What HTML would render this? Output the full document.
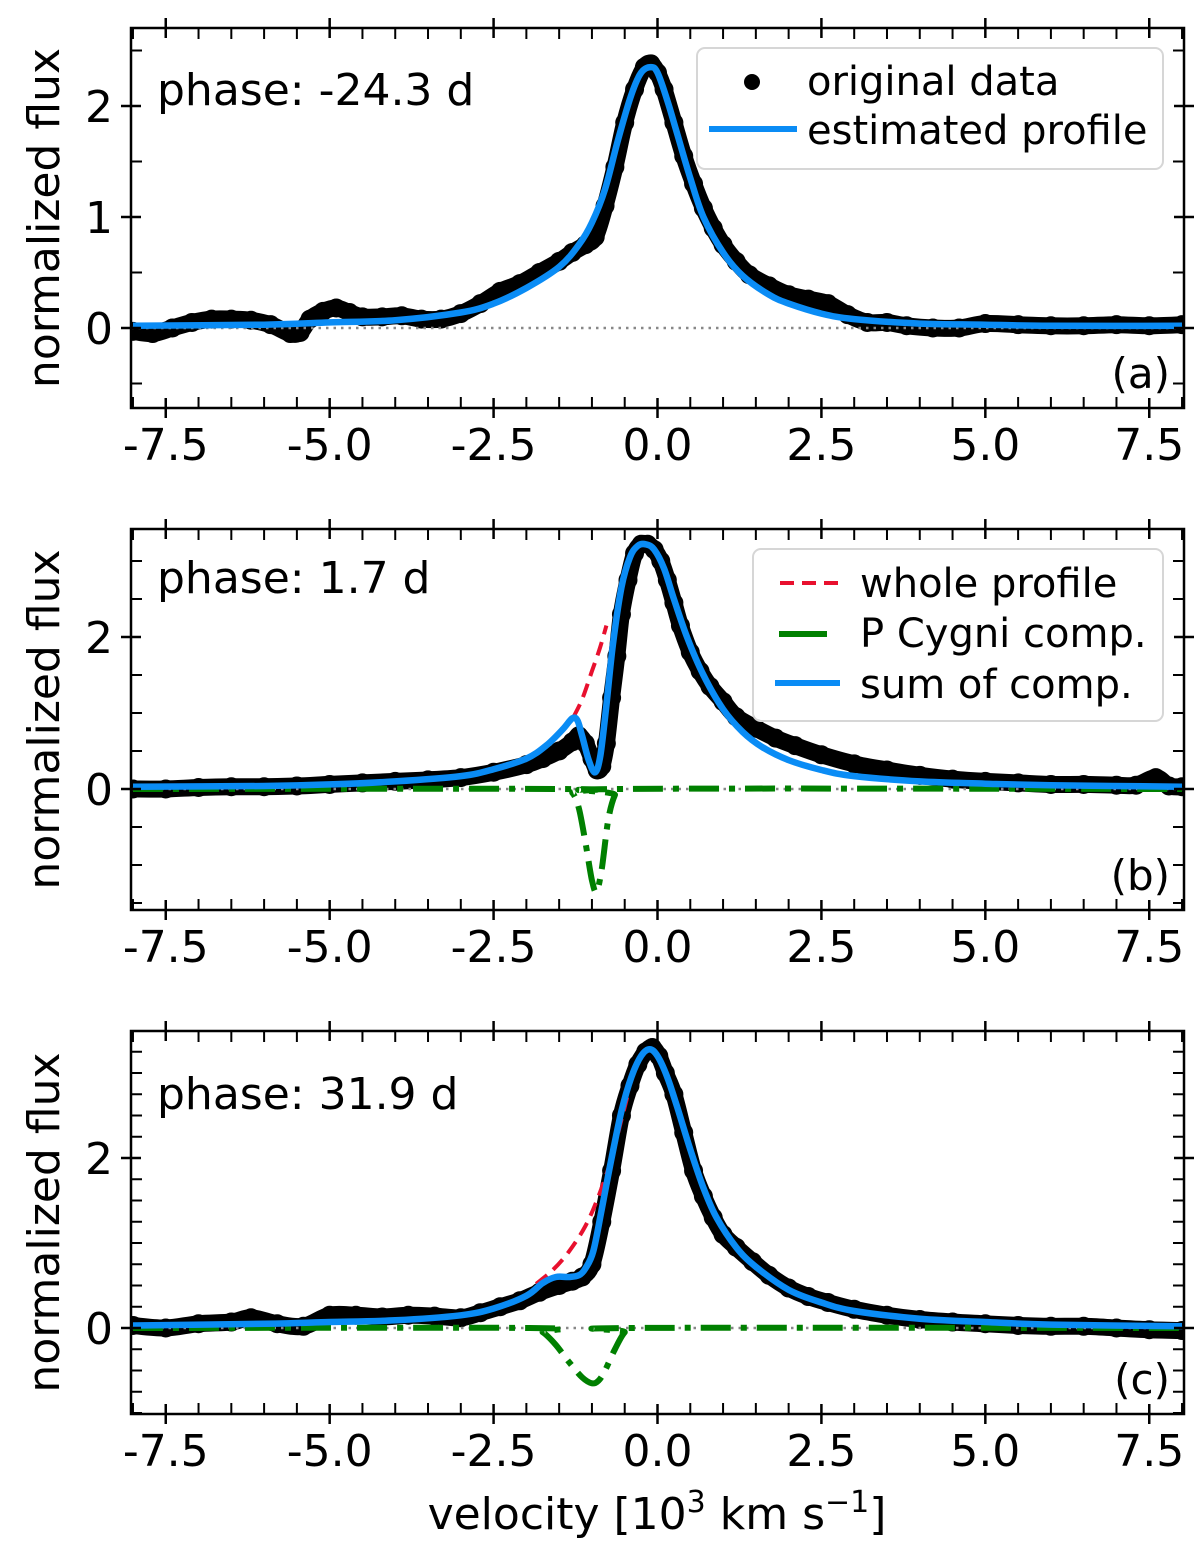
<!DOCTYPE html>
<html><head><meta charset="utf-8"><style>
body{margin:0;background:#fff}
svg text{font-family:"DejaVu Sans","Liberation Sans",sans-serif;fill:#000}
</style></head><body>
<svg id="fig" width="1200" height="1545" viewBox="0 0 1200 1545" xmlns="http://www.w3.org/2000/svg"></svg>
<script>
// ---------- data ----------
const aDataX=[-8,-7.7,-7.4,-7.1,-6.8,-6.5,-6.2,-5.9,-5.6,-5.45,-5.3,-5.1,-4.9,-4.7,-4.5,-4.2,-3.9,-3.6,-3.3,-3,-2.7,-2.4,-2.1,-1.8,-1.5,-1.3,-1.1,-0.95,-0.8,-0.65,-0.5,-0.35,-0.2,-0.1,0,0.1,0.25,0.4,0.55,0.7,0.85,1,1.2,1.4,1.7,2,2.3,2.6,2.9,3.2,3.5,3.8,4.2,4.6,5,5.5,6,6.5,7,7.5,8];
const aDataY=[-0.03,-0.05,0,0.05,0.08,0.08,0.07,0.03,-0.05,-0.04,0.08,0.15,0.18,0.14,0.1,0.1,0.11,0.08,0.08,0.13,0.22,0.33,0.4,0.5,0.6,0.68,0.75,0.82,1.1,1.45,1.85,2.15,2.35,2.38,2.3,2.15,1.85,1.55,1.3,1.08,0.9,0.75,0.6,0.48,0.38,0.3,0.26,0.22,0.12,0.05,0.05,0.02,0,0,0.04,0.03,0.02,0.02,0.03,0.02,0.03];
const aProfX=[-8,-6,-5,-4,-3,-2.5,-2,-1.5,-1.2,-1,-0.8,-0.6,-0.4,-0.25,-0.1,0,0.15,0.3,0.5,0.7,1,1.3,1.7,2,2.5,3,4,5,6,8];
const aProfY=[0.02,0.03,0.05,0.07,0.14,0.22,0.36,0.55,0.75,0.95,1.25,1.7,2.1,2.3,2.35,2.3,2.05,1.75,1.35,1.0,0.68,0.47,0.3,0.22,0.13,0.08,0.04,0.03,0.02,0.02];

const bDataX=[-8,-7.5,-7,-6.5,-6,-5.5,-5,-4.5,-4,-3.5,-3,-2.5,-2,-1.75,-1.5,-1.3,-1.2,-1.1,-1.0,-0.92,-0.85,-0.78,-0.7,-0.62,-0.55,-0.45,-0.35,-0.25,-0.15,-0.05,0.05,0.15,0.25,0.35,0.5,0.65,0.8,1,1.2,1.5,1.8,2.1,2.5,3,3.5,4,4.5,5,5.5,6,6.5,7,7.3,7.6,7.8,8];
const bDataY=[0,0,0.02,0.03,0.03,0.04,0.06,0.08,0.1,0.12,0.15,0.22,0.32,0.4,0.5,0.62,0.7,0.6,0.4,0.25,0.3,0.6,1.2,1.75,2.3,2.75,3.1,3.22,3.22,3.15,3.0,2.75,2.45,2.15,1.8,1.55,1.35,1.15,0.95,0.8,0.67,0.57,0.45,0.33,0.25,0.18,0.13,0.1,0.08,0.06,0.06,0.05,0.05,0.15,0.04,0.03];
const bSumX=[-8,-6,-5,-4,-3,-2.5,-2,-1.7,-1.45,-1.3,-1.22,-1.15,-1.05,-0.95,-0.87,-0.78,-0.68,-0.55,-0.42,-0.3,-0.18,-0.05,0.1,0.25,0.45,0.7,1,1.3,1.6,2,2.5,3,4,5,6,8];
const bSumY=[0.03,0.04,0.06,0.1,0.17,0.26,0.4,0.57,0.78,0.93,0.9,0.7,0.38,0.22,0.45,1.1,1.9,2.65,3.05,3.2,3.22,3.15,2.9,2.5,2.0,1.5,1.05,0.75,0.55,0.38,0.25,0.17,0.1,0.07,0.05,0.03];
const bWholeX=[-1.28,-1.15,-1.0,-0.88,-0.78];
const bWholeY=[0.95,1.18,1.55,1.85,2.15];
const bPcX=[-8,-1.45,-1.3,-1.2,-1.1,-1.0,-0.93,-0.85,-0.75,-0.65,-0.55,8];
const bPcY=[0,0,-0.05,-0.25,-0.7,-1.2,-1.35,-1.05,-0.4,-0.08,0,0];

const cDataX=[-8,-7.5,-7,-6.5,-6.2,-5.8,-5.4,-5,-4.6,-4.2,-3.8,-3.4,-3,-2.7,-2.4,-2.1,-1.8,-1.5,-1.3,-1.15,-1,-0.85,-0.7,-0.55,-0.42,-0.3,-0.18,-0.08,0.02,0.12,0.25,0.4,0.55,0.7,0.85,1,1.2,1.45,1.7,2,2.3,2.6,3,3.5,4,4.5,5,5.5,6,6.5,7,7.5,8];
const cDataY=[0.03,0.0,0.05,0.07,0.12,0.05,0.02,0.15,0.15,0.13,0.15,0.14,0.12,0.18,0.25,0.32,0.42,0.5,0.55,0.6,0.75,1.25,1.85,2.5,2.85,3.1,3.25,3.3,3.2,3.0,2.75,2.3,1.85,1.55,1.3,1.1,0.95,0.78,0.62,0.47,0.37,0.3,0.22,0.15,0.1,0.07,0.05,0.03,0.02,0.02,0.0,-0.02,-0.03];
const cSumX=[-8,-6,-5,-4,-3,-2.5,-2,-1.75,-1.55,-1.35,-1.2,-1.1,-0.98,-0.85,-0.7,-0.55,-0.4,-0.25,-0.12,0,0.15,0.3,0.5,0.7,0.9,1.2,1.5,2,2.5,3,4,5,6,8];
const cSumY=[0.03,0.05,0.07,0.09,0.15,0.23,0.38,0.53,0.6,0.6,0.62,0.7,0.9,1.4,2.0,2.55,2.95,3.2,3.28,3.2,2.95,2.6,2.1,1.65,1.3,0.95,0.72,0.45,0.3,0.2,0.11,0.07,0.04,0.02];
const cWholeX=[-1.85,-1.6,-1.35,-1.1,-0.9,-0.7,-0.55,-0.45];
const cWholeY=[0.52,0.68,0.9,1.2,1.55,2.0,2.45,2.75];
const cPcX=[-8,-1.95,-1.75,-1.55,-1.35,-1.15,-1.0,-0.9,-0.8,-0.65,-0.5,-0.35,8];
const cPcY=[0,0,-0.05,-0.2,-0.4,-0.58,-0.65,-0.62,-0.5,-0.25,-0.05,0,0];

const xTicks=[-7.5,-5.0,-2.5,0.0,2.5,5.0,7.5];
const xTickLabels=["-7.5","-5.0","-2.5","0.0","2.5","5.0","7.5"];

// ---------- drawing ----------
const NS="http://www.w3.org/2000/svg";
const svg=document.getElementById('fig');
function el(tag,attrs,parent){const e=document.createElementNS(NS,tag);for(const k in attrs)e.setAttribute(k,attrs[k]);(parent||svg).appendChild(e);return e;}
const X0=131,X1=1184,XMIN=-8.03,XMAX=8.03;
function sx(v){return X0+(v-XMIN)/(XMAX-XMIN)*(X1-X0);}
function smooth(xs,ys,fx,fy){
  const p=xs.map((x,i)=>[fx(x),fy(ys[i])]);
  let d='M'+p[0][0].toFixed(1)+','+p[0][1].toFixed(1);
  for(let i=0;i<p.length-1;i++){
    const p0=p[Math.max(0,i-1)],p1=p[i],p2=p[i+1],p3=p[Math.min(p.length-1,i+2)];
    const c1=[p1[0]+(p2[0]-p0[0])/6,p1[1]+(p2[1]-p0[1])/6];
    const c2=[p2[0]-(p3[0]-p1[0])/6,p2[1]-(p3[1]-p1[1])/6];
    d+=' C'+c1[0].toFixed(1)+','+c1[1].toFixed(1)+' '+c2[0].toFixed(1)+','+c2[1].toFixed(1)+' '+p2[0].toFixed(1)+','+p2[1].toFixed(1);
  }
  return d;
}
function panel(cfg){
  const g=el('g',{});
  
  
  const sy=v=>cfg.y0-v*cfg.k;
  const top=cfg.top,bot=cfg.bot;
  const clipId='clip'+cfg.id;
  const cp=el('clipPath',{id:clipId},g);el('rect',{x:X0,y:top,width:X1-X0,height:bot-top},cp);
  const pg=el('g',{'clip-path':'url(#'+clipId+')'},g);
  const dl=el('path',{d:smooth(cfg.dx,cfg.dy,sx,sy),fill:'none',stroke:'#000','stroke-width':17,'stroke-linecap':'round','stroke-linejoin':'round'},pg);
  
  
  cfg.dx.forEach((x,i)=>{const c=el('circle',{cx:sx(x),cy:sy(cfg.dy[i]),r:9.5,fill:'#000'},pg);
    
    });
  const zl=el('line',{x1:X0,x2:X1,y1:sy(0),y2:sy(0),stroke:'#888','stroke-width':2.5,'stroke-dasharray':'2.5 5'},pg);
  
  
  if(cfg.pcx){const pc=el('path',{d:smooth(cfg.pcx,cfg.pcy,sx,sy),fill:'none',stroke:'#008000','stroke-width':6,'stroke-dasharray':'30 10 6 10'},pg);
    
    }
  if(cfg.wx){const w=el('path',{d:smooth(cfg.wx,cfg.wy,sx,sy),fill:'none',stroke:'#e8102e','stroke-width':4,'stroke-dasharray':'14 8'},pg);
    
    }
  const s=el('path',{d:smooth(cfg.sx,cfg.sy,sx,sy),fill:'none',stroke:'#0a8cf5','stroke-width':6.5,'stroke-linejoin':'round'},pg);
  
  
  const fr=el('rect',{x:X0,y:top,width:X1-X0,height:bot-top,fill:'none',stroke:'#000','stroke-width':2.5},g);
  
  
  for(let i=0;i<=32;i++){
    const v=-8+i*0.5;
    const x=sx(v);const major=xTicks.some(t=>Math.abs(t-v)<1e-6);
    if(major){el('line',{x1:x,x2:x,y1:bot-10,y2:bot+10,stroke:'#000','stroke-width':2.5},g);el('line',{x1:x,x2:x,y1:top-10,y2:top+10,stroke:'#000','stroke-width':2.5},g);}
    else{el('line',{x1:x,x2:x,y1:bot-11,y2:bot,stroke:'#000','stroke-width':2},g);el('line',{x1:x,x2:x,y1:top,y2:top+11,stroke:'#000','stroke-width':2},g);}
  }
  xTicks.forEach((t,i)=>{const tx=el('text',{x:sx(t),y:bot+52,'font-size':44,'text-anchor':'middle'},g);tx.textContent=xTickLabels[i];
    
    });
  const vmin=(cfg.y0-bot)/cfg.k, vmax=(cfg.y0-top)/cfg.k;
  const n0=Math.ceil(vmin/cfg.minor-1e-6), n1=Math.floor(vmax/cfg.minor+1e-6);
  for(let n=n0;n<=n1;n++){
    const v=n*cfg.minor;
    const y=sy(v);const rv=Math.round(v);const major=Math.abs(v-rv)<1e-6&&(rv%cfg.major===0);
    if(major){el('line',{x1:X0-10,x2:X0+10,y1:y,y2:y,stroke:'#000','stroke-width':2.5},g);el('line',{x1:X1-10,x2:X1+10,y1:y,y2:y,stroke:'#000','stroke-width':2.5},g);
      const ty=el('text',{x:113,y:y+16,'font-size':44,'text-anchor':'end'},g);ty.textContent=String(rv===0?0:rv);
      
      }
    else{el('line',{x1:X0,x2:X0+11,y1:y,y2:y,stroke:'#000','stroke-width':2},g);el('line',{x1:X1-11,x2:X1,y1:y,y2:y,stroke:'#000','stroke-width':2},g);}
  }
  const yl=el('text',{x:0,y:0,'font-size':44,'text-anchor':'middle',transform:'translate(59,'+((top+bot)/2)+') rotate(-90)'},g);yl.textContent='normalized flux';
  
  
  const ph=el('text',{x:157,y:top+cfg.phOff,'font-size':44},g);ph.textContent=cfg.phase;
  
  
  const pl=el('text',{x:1170,y:bot-20,'font-size':42,'text-anchor':'end'},g);pl.textContent='('+cfg.id+')';
  
  
  return g;
}
panel({id:'a',top:28,bot:408,y0:328,k:111,minor:0.5,major:1,dx:aDataX,dy:aDataY,sx:aProfX,sy:aProfY,phase:'phase: -24.3 d',phOff:77});
panel({id:'b',top:529,bot:910,y0:789,k:76,minor:0.5,major:2,dx:bDataX,dy:bDataY,sx:bSumX,sy:bSumY,wx:bWholeX,wy:bWholeY,pcx:bPcX,pcy:bPcY,phase:'phase: 1.7 d',phOff:64});
panel({id:'c',top:1031,bot:1414,y0:1328,k:85,minor:0.25,major:2,dx:cDataX,dy:cDataY,sx:cSumX,sy:cSumY,wx:cWholeX,wy:cWholeY,pcx:cPcX,pcy:cPcY,phase:'phase: 31.9 d',phOff:78});

function legend(name,x,y,w,h){const r=el('rect',{x:x,y:y,width:w,height:h,rx:8,fill:'#fff','fill-opacity':0.85,stroke:'#d6d6d6','stroke-width':2});
  
  }
function ltext(s,x,y){const t=el('text',{x:x,y:y,'font-size':40},svg);t.textContent=s;
  
  }
legend('legend-a',697,48,466,121);
const ld=el('circle',{cx:752,cy:82,r:8,fill:'#000'});


ltext('original data',807,95);
const lp=el('line',{x1:709,x2:797,y1:129,y2:129,stroke:'#0a8cf5','stroke-width':6});


ltext('estimated profile',807,144);
legend('legend-b',753,549,410,172);
const lw=el('line',{x1:780,x2:838,y1:583,y2:583,stroke:'#e8102e','stroke-width':4,'stroke-dasharray':'14 8'});


ltext('whole profile',860,597);
const lg=el('line',{x1:779,x2:827,y1:634,y2:634,stroke:'#008000','stroke-width':6});


ltext('P Cygni comp.',860,647);
const ls=el('line',{x1:775,x2:840,y1:683,y2:683,stroke:'#0a8cf5','stroke-width':6});


ltext('sum of comp.',860,698);

const xl=el('text',{x:657,y:1529,'font-size':44,'text-anchor':'middle'});
xl.innerHTML='velocity [10<tspan dy="-17" font-size="30">3</tspan><tspan dy="17"> km s</tspan><tspan dy="-17" font-size="30">−1</tspan><tspan dy="17">]</tspan>';


</script>
</body></html>
